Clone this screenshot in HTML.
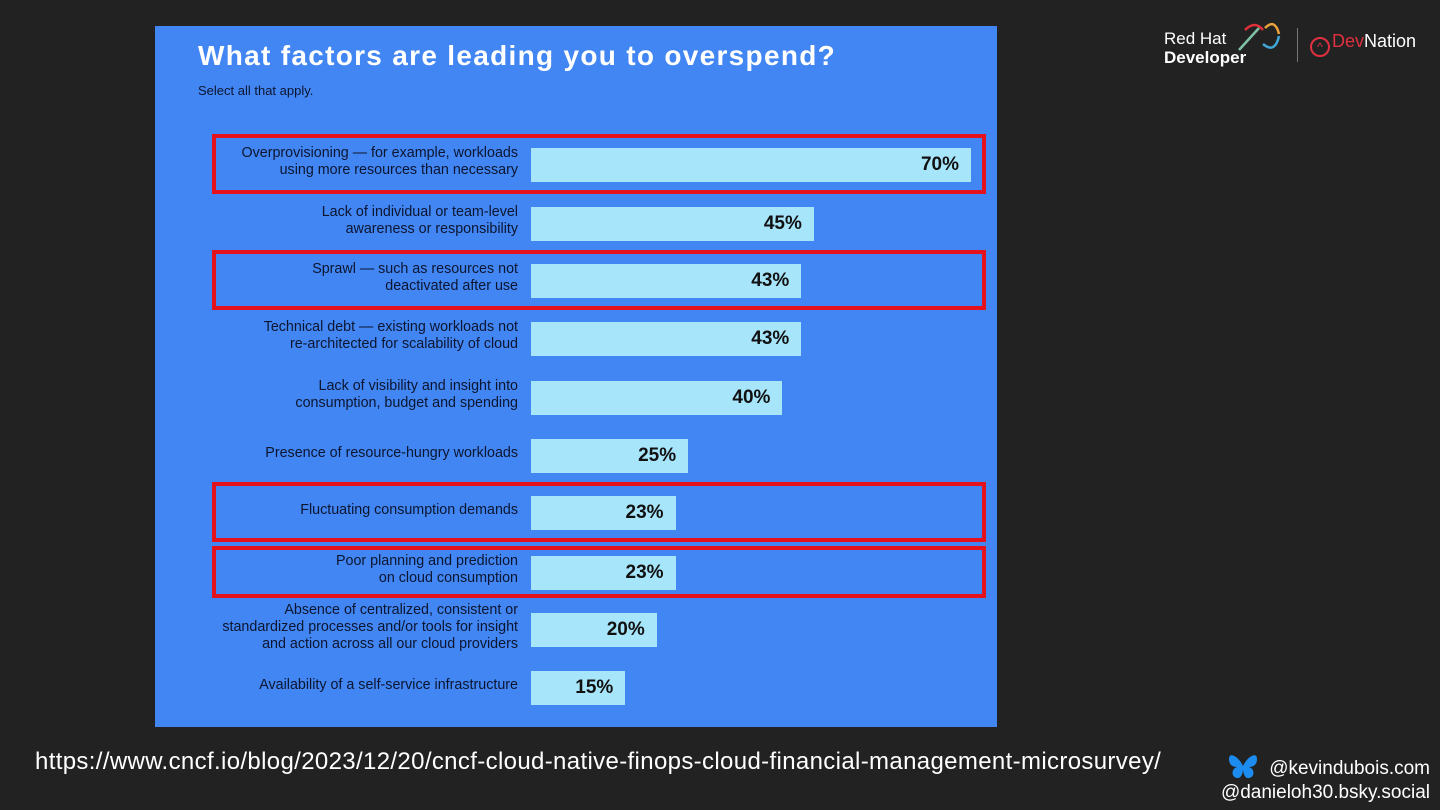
<!DOCTYPE html>
<html><head><meta charset="utf-8"><style>
body{margin:0;width:1440px;height:810px;background:#222222;position:relative;overflow:hidden;font-family:"Liberation Sans",sans-serif}
#panel{position:absolute;left:155px;top:26px;width:842px;height:701px;background:#4186f2}
.abs{position:absolute}
.lbl{position:absolute;right:479px;text-align:right;color:#0d1530;font-size:14.3px;line-height:17px;white-space:nowrap}
.bar{position:absolute;left:376px;height:34px;background:#a7e5fb}
.val{position:absolute;right:12px;top:6px;font-weight:bold;font-size:19px;color:#111}
.box{position:absolute;left:57px;width:774px;border:4px solid #e3121c;box-sizing:border-box}
</style></head><body>
<div id="panel">
<div class="abs" style="left:43px;top:14px;font-size:28px;letter-spacing:1.3px;font-weight:bold;color:#fff">What factors are leading you to overspend?</div>
<div class="abs" style="left:43px;top:57px;font-size:13px;color:#0d1530">Select all that apply.</div>
</div>
<div class="abs" style="left:35px;top:748px;font-size:24px;letter-spacing:0.35px;color:#fff">https://www.cncf.io/blog/2023/12/20/cncf-cloud-native-finops-cloud-financial-management-microsurvey/</div>
<div class="abs" style="left:1164px;top:29px;color:#fff;font-size:17px;line-height:19px">Red Hat<br><b>Developer</b></div>
<svg class="abs" style="left:1235px;top:20px" width="50" height="36"><path d="M4 30 L24 8" stroke="#7fc1a4" stroke-width="2.5"/><path d="M10 10 Q20 0 28 10" stroke="#e0303a" stroke-width="2.5" fill="none"/><path d="M30 8 Q40 -2 44 14" stroke="#e9a33a" stroke-width="2.5" fill="none"/><path d="M44 16 Q40 34 28 24" stroke="#3fa6d6" stroke-width="2.5" fill="none"/></svg>
<div class="abs" style="left:1297px;top:28px;width:1px;height:34px;background:#777"></div>
<div class="abs" style="left:1310px;top:31px;font-size:18px;color:#fff"><span style="display:inline-block;width:20px;height:20px;border:2px solid #e03040;border-radius:50%;box-sizing:border-box;vertical-align:-4px;color:#e03040;font-size:12px;text-align:center;line-height:16px;margin-right:2px">^</span><span style="color:#e03040">Dev</span>Nation</div>
<svg class="abs" style="left:1227px;top:753px" width="32" height="28"><path d="M16 13 C12 4 2 -2 2 6 C2 12 6 14 10 14 C4 16 4 24 10 25 C14 26 16 20 16 16 C16 20 18 26 22 25 C28 24 28 16 22 14 C26 14 30 12 30 6 C30 -2 20 4 16 13Z" fill="#1d8cf0"/></svg>
<div class="abs" style="right:10px;top:758px;font-size:19px;color:#fff">@kevindubois.com</div>
<div class="abs" style="right:10px;top:782px;font-size:19px;color:#fff">@danieloh30.bsky.social</div>
<script>
const categories=["Overprovisioning — for example, workloads<br>using more resources than necessary","Lack of individual or team-level<br>awareness or responsibility","Sprawl — such as resources not<br>deactivated after use","Technical debt — existing workloads not<br>re-architected for scalability of cloud","Lack of visibility and insight into<br>consumption, budget and spending","Presence of resource-hungry workloads","Fluctuating consumption demands","Poor planning and prediction<br>on cloud consumption","Absence of centralized, consistent or<br>standardized processes and/or tools for insight<br>and action across all our cloud providers","Availability of a self-service infrastructure"];
const values=[70,45,43,43,40,25,23,23,20,15];
const highlighted=[0,2,6,7];
const panel=document.getElementById('panel');
const x=v=>v*6.286;
const yc=i=>[139,198,255,313,372,430,487,547,604,662][i];
highlighted.forEach(i=>{const b=document.createElement('div');b.className='box';


const h=i===7?52:60;b.style.top=(yc(i)-h/2-1)+'px';b.style.height=h+'px';panel.appendChild(b);});
categories.forEach((c,i)=>{
const l=document.createElement('div');l.className='lbl';l.innerHTML=c;


const n=c.split('<br>').length;l.style.top=(yc(i)-n*17/2-3)+'px';panel.appendChild(l);
const b=document.createElement('div');b.className='bar';


b.style.top=(yc(i)-17)+'px';b.style.width=x(values[i])+'px';
const v=document.createElement('div');v.className='val';v.textContent=values[i]+'%';


b.appendChild(v);panel.appendChild(b);});
</script>
</body></html>
